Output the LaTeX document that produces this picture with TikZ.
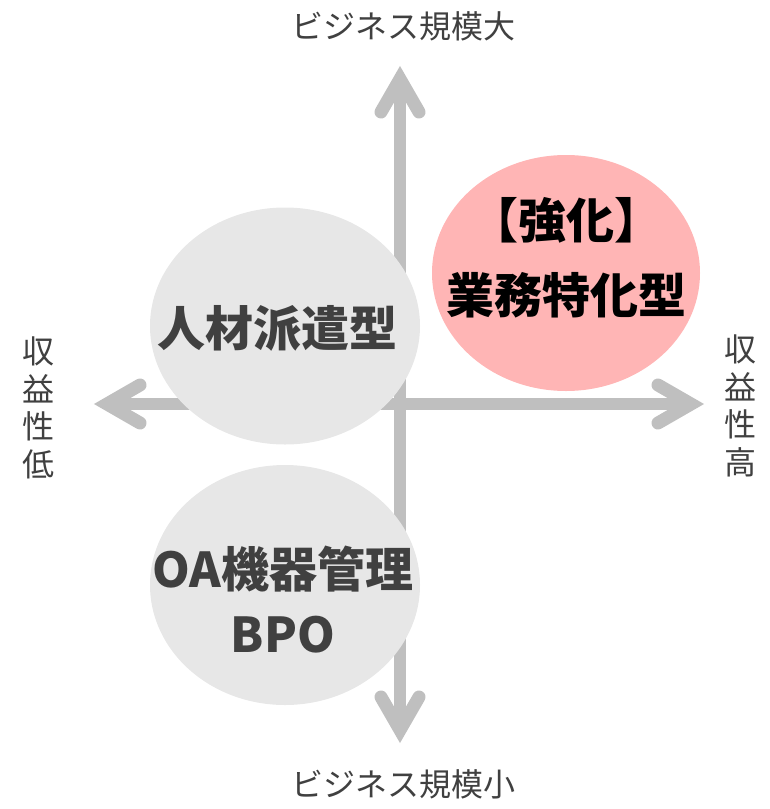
\documentclass[tikz,border=0pt]{standalone}
\usepackage{fontspec}
\setmainfont{Noto Sans CJK JP}
\usetikzlibrary{shapes.geometric,calc}
\definecolor{axisgray}{RGB}{191,191,191}
\definecolor{blobgray}{RGB}{231,231,231}
\definecolor{blobpink}{RGB}{255,181,181}
\definecolor{txtdark}{RGB}{64,64,64}
\begin{document}
\begin{tikzpicture}[x=1pt,y=-1pt,
  axisline/.style={draw=axisgray, line width=12pt},
  chev/.style={draw=axisgray, line width=13pt, line cap=round, line join=miter},
  blob/.style={ellipse, fill=blobgray, inner sep=0pt, minimum width=270pt, minimum height=237pt},
  pinkblob/.style={ellipse, fill=blobpink, inner sep=0pt, minimum width=268pt, minimum height=236pt},
  axlabel/.style={inner sep=0pt, text=txtdark, font=\fontsize{32}{37.5}\selectfont, align=center},
  blobtext/.style={inner sep=0pt, text=txtdark, font=\fontsize{48}{65}\selectfont\bfseries, align=center},
  pinktext/.style={inner sep=0pt, text=black, font=\fontsize{48}{75}\selectfont\bfseries, align=center}
]
\useasboundingbox (0,0) rectangle (769,809);
% axes
\coordinate (T) at (400,79);
\coordinate (B) at (400,730);
\coordinate (L) at (107,404);
\coordinate (R) at (691,404);
\draw[axisline] (B) -- (T);
\draw[axisline] (L) -- (R);
\draw[chev] ($(T)+(-19,33)$) -- (T) -- ($(T)+(19,33)$);
\draw[chev] ($(B)+(-19,-33)$) -- (B) -- ($(B)+(19,-33)$);
\draw[chev] ($(L)+(33,-19)$) -- (L) -- ($(L)+(33,19)$);
\draw[chev] ($(R)+(-33,-19)$) -- (R) -- ($(R)+(-33,19)$);
% blobs
\node[blob] (hr) at (285,326) {};
\node[blob, minimum height=240pt] (oa) at (285,585) {};
\node[pinkblob] (sp) at (566,273) {};
% blob texts
\node[blobtext] (hrt) at (277,328) {人材派遣型};
\node[blobtext] (oat) at (283,600) {OA機器管理\\BPO};
\node[pinktext] (spt) at (566,258) {【強化】\\業務特化型};
% axis labels
\node[axlabel] (lt) at (403,26) {ビジネス規模大};
\node[axlabel] (lb) at (403,784) {ビジネス規模小};
\node[axlabel] (ll) at (38,408) {収\\益\\性\\低};
\node[axlabel] (lr) at (740,406) {収\\益\\性\\高};
\end{tikzpicture}
\end{document}
